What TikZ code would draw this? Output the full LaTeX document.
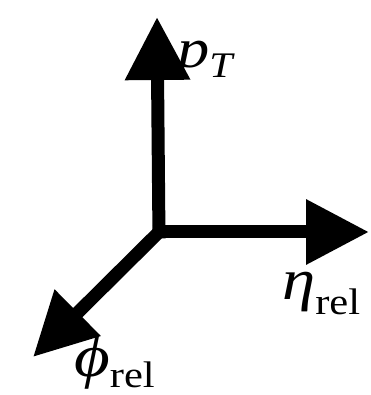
\documentclass[tikz,border=0pt]{standalone}
\usepackage{fontspec}
\setmainfont{Liberation Serif}
\usetikzlibrary{arrows.meta}
\tikzset{
  axis/.style={line width=13pt, -{Triangle[length=63pt,width=62pt]}},
  lbl/.style={inner sep=0pt, anchor=base west},
}
\begin{document}
\begin{tikzpicture}[x=1pt,y=1pt]
\useasboundingbox (0,0) rectangle (370,395);
\coordinate (o) at (159,163);
\coordinate (tp) at (157,378);
\coordinate (te) at (369,163);
\coordinate (tf) at (33,38);
\draw[axis, line cap=butt] ([yshift=-6.5pt]o) -- (tp);
\draw[axis] ([xshift=-6.5pt]o) -- (te);
\draw[axis] (o) -- (tf);
\node[lbl] (lp) at (177,327) {\scalebox{1.15}[1]{\fontsize{56}{60}\selectfont\itshape p\raisebox{-10pt}{\fontsize{36}{40}\selectfont T}}};
\node[lbl] (le) at (282,95) {\scalebox{1.15}[1]{\fontsize{58}{62}\selectfont\itshape η\raisebox{-15pt}{\fontsize{37}{42}\selectfont\upshape rel}}};
\node[lbl] (lf) at (74,18) {\scalebox{1.15}[1]{\fontsize{60}{64}\selectfont\itshape ϕ\raisebox{-11pt}{\fontsize{37}{42}\selectfont\upshape rel}}};
\end{tikzpicture}
\end{document}
